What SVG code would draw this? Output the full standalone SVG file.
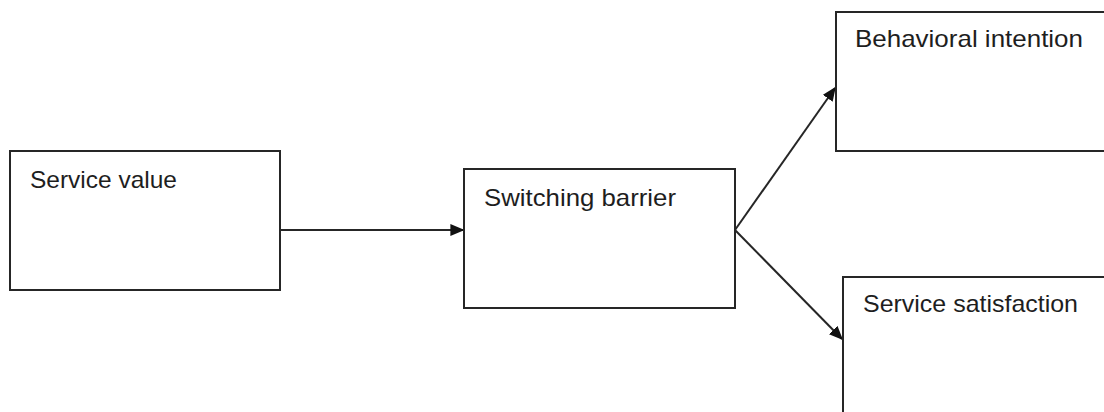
<svg xmlns="http://www.w3.org/2000/svg" width="1104" height="412" viewBox="0 0 1104 412">
<style>
.box{fill:#fff;stroke:#262626;stroke-width:2}
.lbl{font-family:"Liberation Sans",Arial,sans-serif;font-size:24px;fill:#1e1e1e}
.con{stroke:#262626;stroke-width:2;fill:none}
</style>
<defs>
<marker id="ah" viewBox="0 0 10 10" refX="9" refY="5" markerWidth="14" markerHeight="12" markerUnits="userSpaceOnUse" orient="auto" preserveAspectRatio="none">
<path d="M0,0 L10,5 L0,10 Z" fill="#111"/>
</marker>
</defs>
<rect width="1104" height="412" fill="#fff"/>
<g id="connectors">
<line class="con" x1="281" y1="230" x2="463" y2="230" marker-end="url(#ah)"/>
<line class="con" x1="735" y1="230" x2="835" y2="88" marker-end="url(#ah)"/>
<line class="con" x1="735" y1="230" x2="842" y2="339" marker-end="url(#ah)"/>
</g>
<g id="service-value">
<rect class="box" x="10" y="151" width="270" height="139"/>
<text class="lbl" x="30" y="188" textLength="147" lengthAdjust="spacingAndGlyphs">Service value</text>
</g>
<g id="switching-barrier">
<rect class="box" x="464" y="169" width="271" height="139"/>
<text class="lbl" x="484" y="206" textLength="192" lengthAdjust="spacingAndGlyphs">Switching barrier</text>
</g>
<g id="behavioral-intention">
<rect class="box" x="836" y="12" width="280" height="139"/>
<text class="lbl" x="855" y="47" textLength="228" lengthAdjust="spacingAndGlyphs">Behavioral intention</text>
</g>
<g id="service-satisfaction">
<rect class="box" x="843" y="277" width="280" height="150"/>
<text class="lbl" x="863" y="312" textLength="215" lengthAdjust="spacingAndGlyphs">Service satisfaction</text>
</g>
</svg>
